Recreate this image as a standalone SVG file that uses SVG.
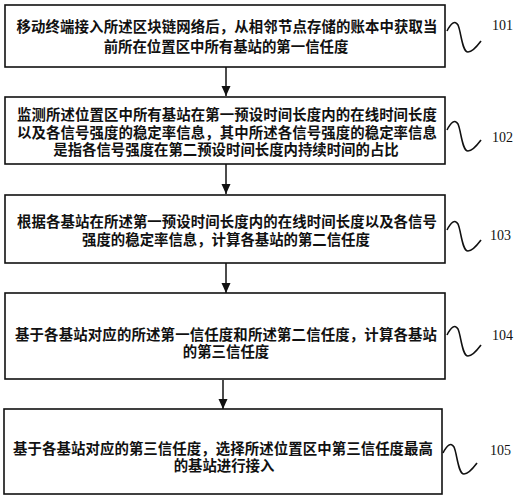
<svg xmlns="http://www.w3.org/2000/svg" xmlns:xlink="http://www.w3.org/1999/xlink" width="515" height="500" viewBox="0 0 515 500">
<style>
.box{fill:#fff;stroke:#111;stroke-width:1.6}
.t{font-family:"Liberation Sans","Noto Sans CJK SC","Noto Sans CJK TC",sans-serif;font-weight:bold;font-size:14.4px;fill:#111;text-anchor:middle;dominant-baseline:central}
.n{font-family:"Liberation Serif",serif;font-size:14px;fill:#111;dominant-baseline:central}
.sq{fill:none;stroke:#111;stroke-width:1.6}
.c{stroke:#111;stroke-width:1.5;fill:none}
</style>
<defs>
<marker id="ah" markerWidth="10" markerHeight="10" viewBox="0 0 10 10" refX="10" refY="5" orient="auto" markerUnits="userSpaceOnUse">
<path d="M0,0.5 L10,5 L0,9.5 Z" fill="#111"/>
</marker>
<path id="sq" d="M0,0 C4,-8 8,-11 11,-6 C14,0 15,21 21,21 C26,21 31,14 34,10"/>
</defs>
<rect width="515" height="500" fill="#fff"/>
<g id="connectors">
<line class="c" x1="226" y1="67" x2="226" y2="96" marker-end="url(#ah)"/>
<line class="c" x1="226" y1="164" x2="226" y2="194" marker-end="url(#ah)"/>
<line class="c" x1="226" y1="263" x2="226" y2="293" marker-end="url(#ah)"/>
<line class="c" x1="223" y1="380" x2="223" y2="409" marker-end="url(#ah)"/>
</g>
<g id="n101">
<rect class="box" x="5" y="5" width="440" height="62"/>
<text class="t" x="227" y="27" textLength="421" lengthAdjust="spacing">移动终端接入所述区块链网络后，从相邻节点存储的账本中获取当</text>
<text class="t" x="226" y="47">前所在位置区中所有基站的第一信任度</text>
<use class="sq" href="#sq" x="447" y="31"/>
<text class="n" x="492" y="25">101</text>
</g>
<g id="n102">
<rect class="box" x="5" y="97" width="440" height="67"/>
<text class="t" x="227" y="115" textLength="420" lengthAdjust="spacing">监测所述位置区中所有基站在第一预设时间长度内的在线时间长度</text>
<text class="t" x="227" y="133" textLength="420" lengthAdjust="spacing">以及各信号强度的稳定率信息，其中所述各信号强度的稳定率信息</text>
<text class="t" x="226" y="150">是指各信号强度在第二预设时间长度内持续时间的占比</text>
<use class="sq" href="#sq" x="447" y="130"/>
<text class="n" x="492" y="137">102</text>
</g>
<g id="n103">
<rect class="box" x="5" y="195" width="440" height="68"/>
<text class="t" x="227" y="222" textLength="420" lengthAdjust="spacing">根据各基站在所述第一预设时间长度内的在线时间长度以及各信号</text>
<text class="t" x="226" y="240">强度的稳定率信息，计算各基站的第二信任度</text>
<use class="sq" href="#sq" x="447" y="230"/>
<text class="n" x="490" y="235">103</text>
</g>
<g id="n104">
<rect class="box" x="5" y="293" width="440" height="86"/>
<text class="t" x="226" y="335" textLength="422" lengthAdjust="spacing">基于各基站对应的所述第一信任度和所述第二信任度，计算各基站</text>
<text class="t" x="226" y="352">的第三信任度</text>
<use class="sq" href="#sq" x="447" y="335"/>
<text class="n" x="492" y="335">104</text>
</g>
<g id="n105">
<rect class="box" x="4" y="409" width="438" height="85"/>
<text class="t" x="223" y="449" textLength="420" lengthAdjust="spacing">基于各基站对应的第三信任度，选择所述位置区中第三信任度最高</text>
<text class="t" x="224" y="466">的基站进行接入</text>
<use class="sq" href="#sq" x="443" y="453"/>
<text class="n" x="490" y="450">105</text>
</g>
</svg>
